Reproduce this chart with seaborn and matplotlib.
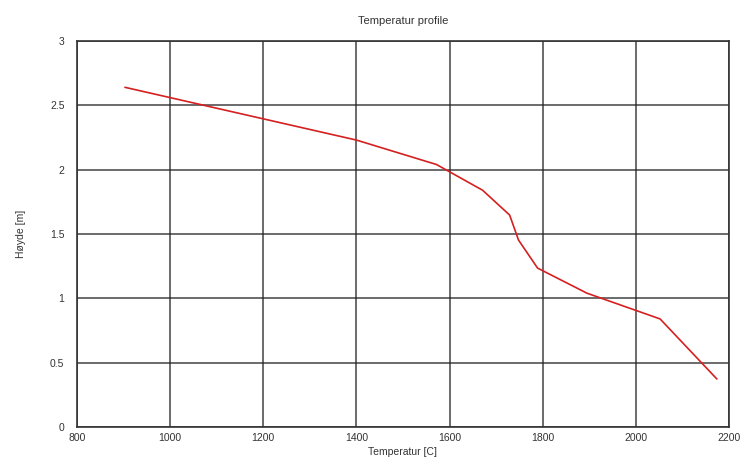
import matplotlib
matplotlib.use("Agg")
import matplotlib.pyplot as plt
import seaborn as sns
import pandas as pd

temperature = [903, 1400, 1572, 1671, 1729, 1748, 1789, 1895, 2052, 2174]
height = [2.64, 2.23, 2.04, 1.84, 1.647, 1.453, 1.235, 1.04, 0.84, 0.373]
x_ticks = [800, 1000, 1200, 1400, 1600, 1800, 2000, 2200]
y_ticks = [0, 0.5, 1, 1.5, 2, 2.5, 3]
y_tick_labels = ["0", "0.5", "1", "1.5", "2", "2.5", "3"]

sns.set_theme(style="white")
plt.rcParams['font.family'] = ['Liberation Sans', 'DejaVu Sans']

df = pd.DataFrame({"Temperatur": temperature, "Hoyde": height})

fig = plt.figure(figsize=(7.51, 4.59), dpi=100)
ax = fig.add_axes([77/751, 32/459, 652/751, 386/459])
sns.lineplot(data=df, x="Temperatur", y="Hoyde", ax=ax, color="#d42020",
             linewidth=1.2, sort=False)
ax.set_xlim(800, 2200)
ax.set_ylim(0, 3)
ax.set_xticks(x_ticks)
ax.set_xticklabels([str(t) for t in x_ticks])
ax.set_yticks(y_ticks)
ax.set_yticklabels(y_tick_labels)
ax.grid(True, color="#222222", linewidth=1.1, alpha=0.85)
ax.set_axisbelow(True)
for s in ax.spines.values():
    s.set_color("#333333")
    s.set_linewidth(1.2)
ax.tick_params(axis="y", labelsize=7.5, colors="#333333", length=0, pad=9)
ax.tick_params(axis="x", labelsize=7.5, colors="#333333", length=0, pad=4)
ax.set_xlabel("Temperatur [C]", fontsize=7.5, color="#333333", labelpad=3)
ax.set_ylabel("Høyde [m]", fontsize=7.5, color="#333333", labelpad=17)
ax.set_title("Temperatur profile", fontsize=8, color="#333333", pad=12)
fig.savefig("out.png", dpi=100)
